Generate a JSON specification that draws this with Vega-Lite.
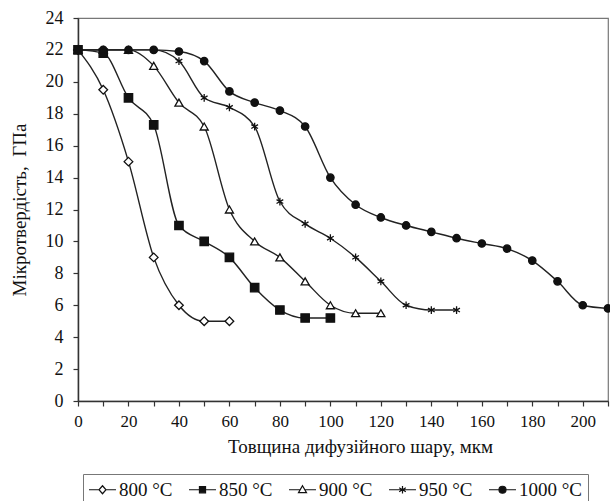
{
  "$schema": "https://vega.github.io/schema/vega-lite/v6.json",
  "width": 530,
  "height": 383,
  "autosize": "none",
  "padding": {"left": 78, "top": 18, "right": 2, "bottom": 100},
  "background": "white",
  "config": {
    "view": {"stroke": "#777", "strokeWidth": 1.2},
    "font": "Liberation Serif, Times New Roman, DejaVu Serif, serif",
    "axis": {
      "grid": false,
      "domainColor": "#333",
      "domainWidth": 1.5,
      "tickColor": "#333",
      "tickWidth": 1.2,
      "tickSize": 5,
      "labelFont": "Liberation Serif, Times New Roman, DejaVu Serif, serif",
      "labelFontSize": 17,
      "labelColor": "#111",
      "titleFont": "Liberation Serif, Times New Roman, DejaVu Serif, serif",
      "titleFontSize": 19,
      "titleFontWeight": "normal",
      "titleColor": "#111"
    },
    "legend": {
      "labelFont": "Liberation Serif, Times New Roman, DejaVu Serif, serif",
      "labelFontSize": 19,
      "labelColor": "#111"
    }
  },
  "data": {
    "values": [
      {"t": "800 °C", "x": 0, "y": 22}, {"t": "800 °C", "x": 10, "y": 19.5}, {"t": "800 °C", "x": 20, "y": 15}, {"t": "800 °C", "x": 30, "y": 9}, {"t": "800 °C", "x": 40, "y": 6}, {"t": "800 °C", "x": 50, "y": 5}, {"t": "800 °C", "x": 60, "y": 5},
      {"t": "850 °C", "x": 0, "y": 22}, {"t": "850 °C", "x": 10, "y": 21.8}, {"t": "850 °C", "x": 20, "y": 19}, {"t": "850 °C", "x": 30, "y": 17.3}, {"t": "850 °C", "x": 40, "y": 11}, {"t": "850 °C", "x": 50, "y": 10}, {"t": "850 °C", "x": 60, "y": 9}, {"t": "850 °C", "x": 70, "y": 7.1}, {"t": "850 °C", "x": 80, "y": 5.7}, {"t": "850 °C", "x": 90, "y": 5.2}, {"t": "850 °C", "x": 100, "y": 5.2},
      {"t": "900 °C", "x": 0, "y": 22}, {"t": "900 °C", "x": 10, "y": 22}, {"t": "900 °C", "x": 20, "y": 22}, {"t": "900 °C", "x": 30, "y": 21}, {"t": "900 °C", "x": 40, "y": 18.7}, {"t": "900 °C", "x": 50, "y": 17.2}, {"t": "900 °C", "x": 60, "y": 12}, {"t": "900 °C", "x": 70, "y": 10}, {"t": "900 °C", "x": 80, "y": 9}, {"t": "900 °C", "x": 90, "y": 7.5}, {"t": "900 °C", "x": 100, "y": 6}, {"t": "900 °C", "x": 110, "y": 5.5}, {"t": "900 °C", "x": 120, "y": 5.5},
      {"t": "950 °C", "x": 0, "y": 22}, {"t": "950 °C", "x": 10, "y": 22}, {"t": "950 °C", "x": 20, "y": 22}, {"t": "950 °C", "x": 30, "y": 22}, {"t": "950 °C", "x": 40, "y": 21.3}, {"t": "950 °C", "x": 50, "y": 19}, {"t": "950 °C", "x": 60, "y": 18.4}, {"t": "950 °C", "x": 70, "y": 17.2}, {"t": "950 °C", "x": 80, "y": 12.5}, {"t": "950 °C", "x": 90, "y": 11.1}, {"t": "950 °C", "x": 100, "y": 10.2}, {"t": "950 °C", "x": 110, "y": 9}, {"t": "950 °C", "x": 120, "y": 7.5}, {"t": "950 °C", "x": 130, "y": 6}, {"t": "950 °C", "x": 140, "y": 5.7}, {"t": "950 °C", "x": 150, "y": 5.7},
      {"t": "1000 °C", "x": 0, "y": 22}, {"t": "1000 °C", "x": 10, "y": 22}, {"t": "1000 °C", "x": 20, "y": 22}, {"t": "1000 °C", "x": 30, "y": 22}, {"t": "1000 °C", "x": 40, "y": 21.9}, {"t": "1000 °C", "x": 50, "y": 21.3}, {"t": "1000 °C", "x": 60, "y": 19.4}, {"t": "1000 °C", "x": 70, "y": 18.7}, {"t": "1000 °C", "x": 80, "y": 18.2}, {"t": "1000 °C", "x": 90, "y": 17.2}, {"t": "1000 °C", "x": 100, "y": 14}, {"t": "1000 °C", "x": 110, "y": 12.3}, {"t": "1000 °C", "x": 120, "y": 11.5}, {"t": "1000 °C", "x": 130, "y": 11}, {"t": "1000 °C", "x": 140, "y": 10.6}, {"t": "1000 °C", "x": 150, "y": 10.2}, {"t": "1000 °C", "x": 160, "y": 9.87}, {"t": "1000 °C", "x": 170, "y": 9.55}, {"t": "1000 °C", "x": 180, "y": 8.8}, {"t": "1000 °C", "x": 190, "y": 7.5}, {"t": "1000 °C", "x": 200, "y": 6}, {"t": "1000 °C", "x": 210, "y": 5.8}
    ]
  },
  "encoding": {
    "x": {
      "field": "x", "type": "quantitative",
      "scale": {"domain": [0, 210], "nice": false, "zero": true},
      "axis": {
        "title": "Товщина дифузійного шару, мкм",
        "values": [0,10,20,30,40,50,60,70,80,90,100,110,120,130,140,150,160,170,180,190,200,210],
        "labelExpr": "datum.value % 20 === 0 ? datum.label : ''",
        "labelFlush": false,
        "labelPadding": 7,
        "titlePadding": 8,
        "titleX": 282
      }
    },
    "y": {
      "field": "y", "type": "quantitative",
      "scale": {"domain": [0, 24], "nice": false},
      "axis": {
        "title": "Мікротвердість,\u00a0\u00a0ГПа",
        "values": [0,2,4,6,8,10,12,14,16,18,20,22,24],
        "labelFontSize": 18,
        "labelPadding": 10,
        "titlePadding": 16
      }
    }
  },
  "resolve": {"scale": {"shape": "independent", "fill": "independent", "size": "independent", "stroke": "independent"}},
  "layer": [
    {
      "mark": {"type": "line", "interpolate": "monotone", "color": "#222", "strokeWidth": 1.4},
      "encoding": {"detail": {"field": "t"}}
    },
    {
      "mark": {"type": "point", "filled": true, "stroke": "#111", "strokeWidth": 1.3, "opacity": 1},
      "encoding": {
        "shape": {
          "field": "t", "type": "nominal",
          "scale": {
            "domain": ["800 °C", "850 °C", "900 °C", "950 °C", "1000 °C"],
            "range": ["diamond", "square", "triangle-up", "M0,-1V1M-0.87,-0.5L0.87,0.5M-0.87,0.5L0.87,-0.5", "circle"]
          },
          "legend": null
        },
        "fill": {
          "field": "t", "type": "nominal",
          "scale": {
            "domain": ["800 °C", "850 °C", "900 °C", "950 °C", "1000 °C"],
            "range": ["white", "#111", "white", "#111", "#111"]
          },
          "legend": null
        },
        "size": {
          "field": "t", "type": "nominal",
          "scale": {
            "domain": ["800 °C", "850 °C", "900 °C", "950 °C", "1000 °C"],
            "range": [75, 55, 85, 170, 85]
          },
          "legend": null
        }
      }
    },
    {
      "transform": [{"filter": "false"}],
      "mark": {"type": "point", "filled": true, "strokeWidth": 1.2},
      "encoding": {
        "shape": {
          "field": "t", "type": "nominal",
          "scale": {
            "domain": ["800 °C", "850 °C", "900 °C", "950 °C", "1000 °C"],
            "range": [
              "M-1.42,0H-0.37M0.37,0H1.42M0,-0.42L0.37,0L0,0.42L-0.37,0Z",
              "M-1.42,0H1.42M-0.32,-0.32H0.32V0.32H-0.32Z",
              "M-1.42,0H-0.24M0.24,0H1.42M0,-0.42L0.42,0.3L-0.42,0.3Z",
              "M-1.42,0H1.42M0,-0.4V0.4M-0.35,-0.2L0.35,0.2M-0.35,0.2L0.35,-0.2",
              "M-1.42,0H1.42M0.37,0A0.37,0.37,0,1,1,-0.37,0A0.37,0.37,0,1,1,0.37,0Z"
            ]
          },
          "legend": {
            "title": null,
            "orient": "none",
            "direction": "horizontal",
            "legendX": 5,
            "legendY": 456,
            "strokeColor": "#777",
            "fillColor": "white",
            "padding": 5,
            "columnPadding": 13,
            "symbolSize": 361,
            "symbolOffset": 4,
            "labelOffset": 6,
            "symbolStrokeWidth": 1.2,
            "symbolOpacity": 1
          }
        },
        "fill": {
          "field": "t", "type": "nominal",
          "scale": {
            "domain": ["800 °C", "850 °C", "900 °C", "950 °C", "1000 °C"],
            "range": ["white", "#111", "white", "#111", "#111"]
          },
          "legend": {
            "title": null,
            "orient": "none",
            "direction": "horizontal",
            "legendX": 5,
            "legendY": 456
          }
        },
        "stroke": {
          "field": "t", "type": "nominal",
          "scale": {
            "domain": ["800 °C", "850 °C", "900 °C", "950 °C", "1000 °C"],
            "range": ["#111", "#111", "#111", "#111", "#111"]
          },
          "legend": {
            "title": null,
            "orient": "none",
            "direction": "horizontal",
            "legendX": 5,
            "legendY": 456
          }
        }
      }
    }
  ]
}
